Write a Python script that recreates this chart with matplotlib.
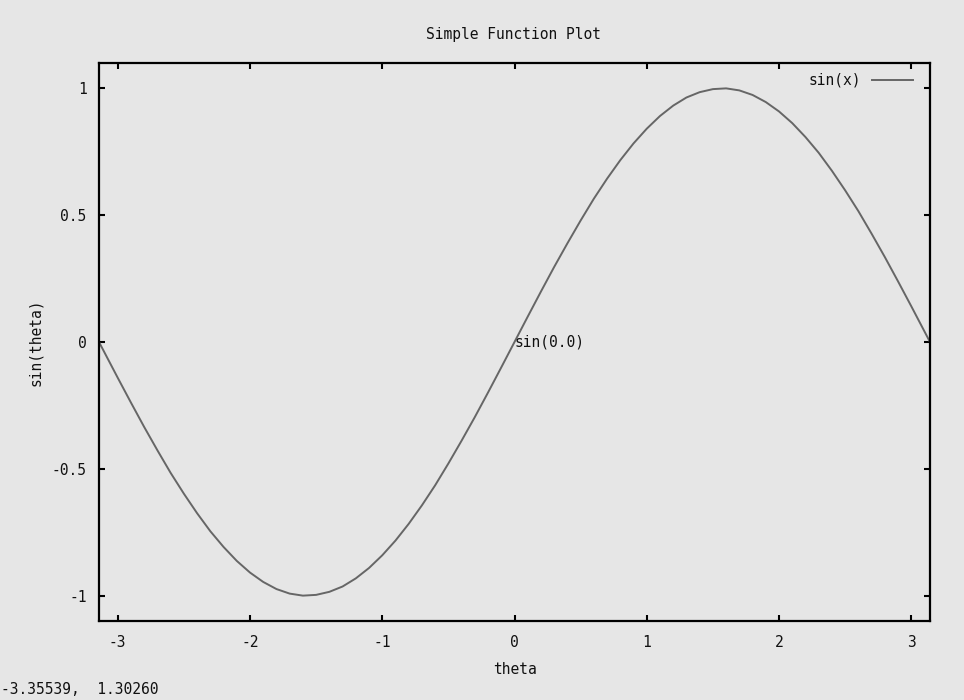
import matplotlib
matplotlib.use("Agg")
import matplotlib.pyplot as plt

# Data (sin curve samples)
theta = [-3.1416, -3.0, -2.9, -2.8, -2.7, -2.6, -2.5, -2.4, -2.3, -2.2, -2.1,
         -2.0, -1.9, -1.8, -1.7, -1.6, -1.5, -1.4, -1.3, -1.2, -1.1,
         -1.0, -0.9, -0.8, -0.7, -0.6, -0.5, -0.4, -0.3, -0.2, -0.1,
         0.0, 0.1, 0.2, 0.3, 0.4, 0.5, 0.6, 0.7, 0.8, 0.9,
         1.0, 1.1, 1.2, 1.3, 1.4, 1.5, 1.6, 1.7, 1.8, 1.9,
         2.0, 2.1, 2.2, 2.3, 2.4, 2.5, 2.6, 2.7, 2.8, 2.9, 3.0, 3.1416]
sin_theta = [0.000, -0.141, -0.239, -0.335, -0.427, -0.516, -0.598, -0.675, -0.746, -0.808, -0.863,
             -0.909, -0.946, -0.974, -0.992, -1.000, -0.997, -0.985, -0.964, -0.932, -0.891,
             -0.841, -0.783, -0.717, -0.644, -0.565, -0.479, -0.389, -0.296, -0.199, -0.100,
             0.000, 0.100, 0.199, 0.296, 0.389, 0.479, 0.565, 0.644, 0.717, 0.783,
             0.841, 0.891, 0.932, 0.964, 0.985, 0.997, 1.000, 0.992, 0.974, 0.946,
             0.909, 0.863, 0.808, 0.746, 0.675, 0.598, 0.516, 0.427, 0.335, 0.239, 0.141, 0.000]
xticks = [-3, -2, -1, 0, 1, 2, 3]
yticks = [-1, -0.5, 0, 0.5, 1]
ytick_labels = ["-1", "-0.5", "0", "0.5", "1"]

FONT = "DejaVu Sans Mono"
FS = 10.5
BG = "#e6e6e6"
TXT = "#111111"

W, H = 964, 700
fig = plt.figure(figsize=(W / 100, H / 100), dpi=100, facecolor=BG)
L, R, T, B = 99, 930, 63, 621
ax = fig.add_axes([L / W, 1 - B / H, (R - L) / W, (B - T) / H], facecolor=BG)

ax.plot(theta, sin_theta, color="#666666", lw=1.4, label="sin(x)")
ax.set_xlim(-3.1416, 3.1416)
ax.set_ylim(-1.1, 1.1)

ax.set_xticks(xticks)
ax.set_xticklabels([str(v) for v in xticks])
ax.set_yticks(yticks)
ax.set_yticklabels(ytick_labels)
for lab in ax.get_xticklabels() + ax.get_yticklabels():
    lab.set_fontfamily(FONT)
    lab.set_fontsize(FS)
ax.tick_params(direction="in", length=4, width=1.5, top=True, right=True,
               colors="black", labelcolor=TXT)
ax.tick_params(axis="x", pad=10)
ax.tick_params(axis="y", pad=9)
for s in ax.spines.values():
    s.set_linewidth(1.6)
    s.set_color("black")

# annotation
ax.text(0, 0, "sin(0.0)", ha="left", va="center", family=FONT, fontsize=FS, color=TXT)

# legend
leg = ax.legend(loc="upper right", bbox_to_anchor=(0.9795, 0.9826), borderaxespad=0,
                borderpad=0, frameon=False, markerfirst=False, handlelength=2.8,
                handletextpad=0.75, prop={"family": FONT, "size": FS})
for t in leg.get_texts():
    t.set_color(TXT)

# titles and labels
fig.text(514 / W, 1 - 35 / H, "Simple Function Plot", ha="center", va="center",
         family=FONT, fontsize=FS, color=TXT)
fig.text(515 / W, 1 - 670 / H, "theta", ha="center", va="center",
         family=FONT, fontsize=FS, color=TXT)
fig.text(35 / W, 1 - 342 / H, "sin(theta)", ha="center", va="center", rotation=90,
         family=FONT, fontsize=FS, color=TXT)
fig.text(1 / W, 1 - 690 / H, "-3.35539,  1.30260", ha="left", va="center",
         family=FONT, fontsize=FS, color=TXT)

fig.savefig("out.png", dpi=100, facecolor=BG)
